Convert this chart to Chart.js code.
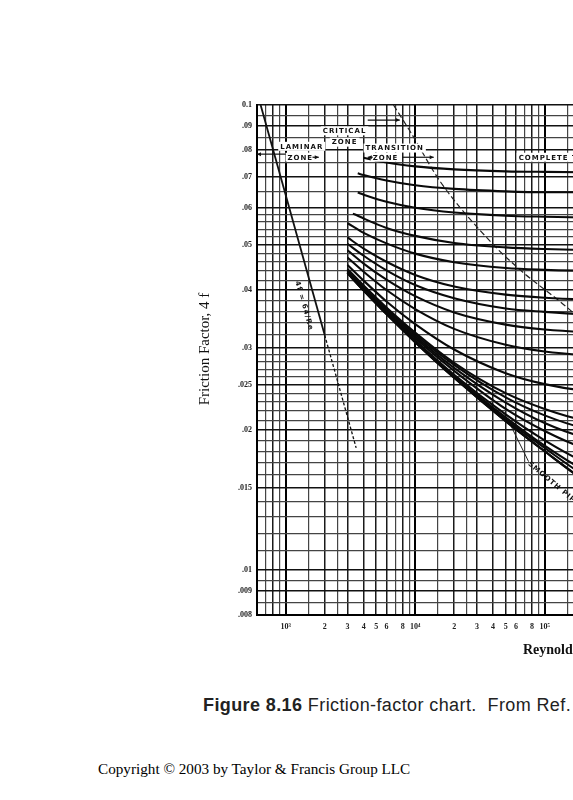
<!DOCTYPE html>
<html>
<head>
<meta charset="utf-8">
<title>Friction-factor chart</title>
<script src="https://cdn.jsdelivr.net/npm/chart.js@4"></script>
<style>
html, body { margin:0; padding:0; background:#fff; overflow:hidden; }
body { width:573px; height:800px; position:relative; }
#contenedorCanvas { position:absolute; left:0; top:0; width:960px; height:680px; }
.pie { position:absolute; white-space:nowrap; }
#figura { left:203px; top:695px; font:18px "Liberation Sans", Arial, sans-serif; letter-spacing:0.4px; color:#222; }
#copyright { left:98px; top:760px; font:15.2px "Liberation Serif", "Times New Roman", serif; color:#000; }
</style>
</head>
<body>
<div id="contenedorCanvas"><canvas id="grafMoody" width="960" height="680"></canvas></div>
<div id="figura" class="pie"><b>Figure 8.16</b> Friction-factor chart.&nbsp; From Ref.</div>
<div id="copyright" class="pie">Copyright © 2003 by Taylor &amp; Francis Group LLC</div>
<script>
let reynolds = [3000, 3300, 3600, 4000, 6000, 1e4, 2e4, 5e4, 1e5, 2e5, 1e6, 1e7, 1e8]

// friction factor 4f for each relative roughness e/D (null = curve not drawn there)
let f0050 = [null, null, null, 0.0770, 0.0752, 0.0738, 0.0727, 0.0720, 0.0718, 0.0717, 0.0716, 0.0716, 0.0716]
let f0040 = [null, null, 0.0713, 0.0707, 0.0688, 0.0672, 0.0660, 0.0652, 0.0649, 0.0649, 0.0649, 0.0649, 0.0649]
let f0030 = [null, null, 0.0648, 0.0641, 0.0619, 0.0601, 0.0587, 0.0578, 0.0575, 0.0573, 0.0571, 0.0571, 0.0571]
let f0020 = [null, 0.0584, 0.0578, 0.0570, 0.0544, 0.0523, 0.0505, 0.0494, 0.0490, 0.0488, 0.0487, 0.0486, 0.0486]
let f0015 = [0.0557, 0.0548, 0.0540, 0.0531, 0.0504, 0.0479, 0.0459, 0.0446, 0.0442, 0.0440, 0.0437, 0.0437, 0.0437]
let f0010 = [0.0519, null, null, 0.0491, 0.0460, 0.0431, 0.0407, 0.0391, 0.0385, 0.0382, 0.0380, 0.0379, 0.0379]
let f0008 = [0.0503, null, null, 0.0474, 0.0441, 0.0410, 0.0384, 0.0365, 0.0359, 0.0355, 0.0353, 0.0352, 0.0352]
let f0006 = [0.0487, null, null, 0.0456, 0.0421, 0.0388, 0.0358, 0.0337, 0.0329, 0.0325, 0.0322, 0.0321, 0.0321]
let f0004 = [0.0470, null, null, 0.0438, 0.0400, 0.0364, 0.0330, 0.0305, 0.0295, 0.0290, 0.0285, 0.0284, 0.0284]
let f0002 = [0.0453, null, null, 0.0419, 0.0378, 0.0338, 0.0298, 0.0265, 0.0251, 0.0243, 0.0236, 0.0234, 0.0234]
let f00010 = [0.0444, null, null, 0.0409, 0.0367, 0.0324, 0.0279, 0.0240, 0.0222, 0.0210, 0.0199, 0.0197, 0.0196]
let f00008 = [0.0442, null, null, 0.0407, 0.0365, 0.0321, 0.0276, 0.0235, 0.0215, 0.0202, 0.0190, 0.0187, 0.0186]
let f00006 = [0.0440, null, null, 0.0405, 0.0362, 0.0318, 0.0272, 0.0229, 0.0207, 0.0193, 0.0179, 0.0175, 0.0174]
let f00004 = [0.0439, null, null, 0.0403, 0.0360, 0.0315, 0.0268, 0.0222, 0.0199, 0.0183, 0.0165, 0.0160, 0.0159]
let f00002 = [0.0437, null, null, 0.0401, 0.0358, 0.0312, 0.0263, 0.0216, 0.0190, 0.0171, 0.0147, 0.0138, 0.0137]
let f00001 = [0.0436, null, null, 0.0400, 0.0357, 0.0310, 0.0261, 0.0213, 0.0185, 0.0164, 0.0134, 0.0122, 0.0120]
let f000005 = [0.0436, null, null, 0.0400, 0.0356, 0.0310, 0.0260, 0.0211, 0.0183, 0.0160, 0.0127, 0.0109, 0.0106]
let f000001 = [0.0435, null, null, 0.0399, 0.0355, 0.0309, 0.0259, 0.0209, 0.0180, 0.0156, 0.0119, 0.0090, 0.0082]
let fLiso = [0.0435, null, null, 0.0399, 0.0355, 0.0309, 0.0259, 0.0209, 0.0180, 0.0156, 0.0116, 0.0081, 0.0060]

let curvas = [f0050, f0040, f0030, f0020, f0015, f0010, f0008, f0006, f0004, f0002,
              f00010, f00008, f00006, f00004, f00002, f00001, f000005, f000001, fLiso]

// laminar line 4f = 64/Re (solid part, then the dashed extension)
let laminarRe = [640, 2000]
let laminarF = [0.1, 0.032]
let laminarExtRe = [2000, 3500]
let laminarExtF = [0.032, 0.0183]

// dashed limit of complete turbulence
let limiteRe = [6800, 9200, 15700, 40400, 65300, 167000, 1430000, 18300000, 1e8]
let limiteF = [0.1, 0.0875, 0.0683, 0.05, 0.0441, 0.0357, 0.0196, 0.012, 0.0092]

// leader from the smooth pipe curve to its label
let lisoGuiaRe = [52700, 75200]
let lisoGuiaF = [0.0209, 0.0171]

// grid / tick values
let multiplosX = [1, 1.5, 2, 2.5, 3, 4, 5, 6, 7, 8, 9]
let multiplosConTexto = [2, 3, 4, 5, 6, 8]
let gridY = [0.1, 0.095, 0.09, 0.085, 0.08, 0.075, 0.07, 0.065, 0.06, 0.058, 0.056, 0.054, 0.052,
             0.05, 0.048, 0.046, 0.044, 0.042, 0.04, 0.038, 0.036, 0.034, 0.032, 0.03,
             0.029, 0.028, 0.027, 0.026, 0.025, 0.024, 0.023, 0.022, 0.021, 0.02,
             0.019, 0.018, 0.017, 0.016, 0.015, 0.014, 0.013, 0.012, 0.011, 0.01,
             0.0095, 0.009, 0.0085, 0.008]
let valoresEtiquetaY = [0.1, 0.09, 0.08, 0.07, 0.06, 0.05, 0.04, 0.03, 0.025, 0.02, 0.015, 0.01, 0.009, 0.008]
let textoEtiquetaY = ['0.1', '.09', '.08', '.07', '.06', '.05', '.04', '.03', '.025', '.02', '.015', '.01', '.009', '.008']

let superindices = ['⁰', '¹', '²', '³', '⁴', '⁵', '⁶', '⁷', '⁸', '⁹']

let gridX = []
for (let e = 2; e <= 8; e++) {
    multiplosX.forEach(m => {
        let v = m * Math.pow(10, e)
        if (v >= 600 && v <= 1e8) gridX.push(v)
    })
}

function partesX(v) {
    let e = Math.floor(Math.log10(v) + 1e-9)
    let m = Math.round(v / Math.pow(10, e) * 10) / 10
    return { e: e, m: m }
}

function etiquetaX(v) {
    if (v < 1000) return ''
    let p = partesX(v)
    if (p.m == 1) return '10' + superindices[p.e]
    if (multiplosConTexto.includes(p.m)) return String(p.m)
    return ''
}

function etiquetaY(v) {
    let i = valoresEtiquetaY.findIndex(w => Math.abs(w - v) < 1e-7)
    return i >= 0 ? textoEtiquetaY[i] : ''
}

function puntos(xs, ys) {
    return xs.map((x, i) => ({ x: x, y: ys[i] })).filter(p => p.y != null)
}

let datasets = []
curvas.forEach(c => {
    datasets.push({
        data: puntos(reynolds, c),
        borderColor: '#0a0a0a',
        borderWidth: 2.1,
        cubicInterpolationMode: 'monotone',
        pointRadius: 0
    })
})
datasets.push({ data: puntos(laminarRe, laminarF), borderColor: '#111', borderWidth: 1.8, pointRadius: 0 })
datasets.push({ data: puntos(laminarExtRe, laminarExtF), borderColor: '#111', borderWidth: 1.3, borderDash: [3, 2], pointRadius: 0 })
datasets.push({ data: puntos(limiteRe, limiteF), borderColor: '#222', borderWidth: 1.2, borderDash: [6, 3], cubicInterpolationMode: 'monotone', pointRadius: 0 })
datasets.push({ data: puntos(lisoGuiaRe, lisoGuiaF), borderColor: '#222', borderWidth: 1, pointRadius: 0 })

// text inside the plot, placed in data coordinates
let rotulos = [
    { texto: 'LAMINAR', re: 1330, f: 0.0815 },
    { texto: 'ZONE', re: 1295, f: 0.0772 },
    { texto: 'CRITICAL', re: 2850, f: 0.0880 },
    { texto: 'ZONE', re: 2850, f: 0.0832 },
    { texto: 'TRANSITION', re: 6950, f: 0.0808 },
    { texto: 'ZONE', re: 5900, f: 0.0772 },
    { texto: 'COMPLETE TURBULENCE, ROUGH PIPES', re: 63000, f: 0.0772, alinear: 'left' },
    { texto: 'SMOOTH PIPES', re: 76000, f: 0.0170, alinear: 'left', giro: 40, fondo: false },
    { texto: '4f = 64/Re', re: 1400, f: 0.037, giro: 74, fondo: false }
]
let flechas = [
    { re1: 1000, re2: 600, f: 0.0784 },
    { re1: 1610, re2: 1800, f: 0.0772 },
    { re1: 4300, re2: 7600, f: 0.0928 },
    { re1: 4700, re2: 4300, f: 0.0772 },
    { re1: 8000, re2: 13900, f: 0.0772 }
]

let textos = {
    id: 'textos',
    afterDraw(chart) {
        let ctx = chart.ctx
        let sx = chart.scales.x
        let sy = chart.scales.y
        let area = chart.chartArea

        ctx.save()
        ctx.beginPath()
        ctx.rect(area.left, area.top, area.right - area.left, area.bottom - area.top)
        ctx.clip()
        ctx.font = 'bold 7px "DejaVu Sans", sans-serif'
        ctx.letterSpacing = '1px'
        ctx.textBaseline = 'middle'
        rotulos.forEach(r => {
            let px = sx.getPixelForValue(r.re)
            let py = sy.getPixelForValue(r.f)
            ctx.save()
            ctx.translate(px, py)
            if (r.giro) ctx.rotate(r.giro * Math.PI / 180)
            ctx.textAlign = r.alinear || 'center'
            let w = ctx.measureText(r.texto).width
            if (r.fondo !== false) {
                let x0 = ctx.textAlign == 'left' ? -2 : -w / 2 - 2
                ctx.fillStyle = '#fff'
                ctx.fillRect(x0, -4.5, w + 4, 9)
            }
            ctx.fillStyle = '#111'
            ctx.fillText(r.texto, 0, 0.5)
            ctx.restore()
        })
        ctx.strokeStyle = '#111'
        ctx.fillStyle = '#111'
        ctx.lineWidth = 1.2
        flechas.forEach(a => {
            let x1 = sx.getPixelForValue(a.re1)
            let x2 = sx.getPixelForValue(a.re2)
            let py = sy.getPixelForValue(a.f)
            let d = x2 > x1 ? 1 : -1
            ctx.beginPath()
            ctx.moveTo(x1, py)
            ctx.lineTo(x2, py)
            ctx.stroke()
            ctx.beginPath()
            ctx.moveTo(x2, py)
            ctx.lineTo(x2 - d * 4, py - 2)
            ctx.lineTo(x2 - d * 4, py + 2)
            ctx.closePath()
            ctx.fill()
        })
        ctx.restore()

        // axis titles
        ctx.save()
        ctx.fillStyle = '#111'
        ctx.font = '15px "Liberation Serif", serif'
        ctx.textAlign = 'center'
        ctx.textBaseline = 'middle'
        ctx.translate(205, 349)
        ctx.rotate(-Math.PI / 2)
        ctx.fillText('Friction Factor, 4 f', 0, 0)
        ctx.restore()

        ctx.save()
        ctx.fillStyle = '#111'
        ctx.font = 'bold 14px "Liberation Serif", serif'
        ctx.textAlign = 'left'
        ctx.textBaseline = 'middle'
        ctx.fillText('Reynolds Number, Re = DVρ/μ', 523, 650)
        ctx.restore()
    }
}

let canvaMoody = document.querySelector('#grafMoody')

new Chart(canvaMoody, {
    type: 'line',
    data: { datasets: datasets },
    options: {
        responsive: false,
        animation: false,
        layout: { padding: { top: 105, right: 27, bottom: 0, left: 0 } },
        plugins: {
            legend: { display: false },
            tooltip: { enabled: false }
        },
        scales: {
            x: {
                type: 'logarithmic',
                min: 600,
                max: 1e8,
                afterFit: s => { s.height = 65 },
                afterBuildTicks: s => { s.ticks = gridX.map(v => ({ value: v })) },
                ticks: {
                    autoSkip: false,
                    maxRotation: 0,
                    padding: 7,
                    color: '#222',
                    font: { family: '"Liberation Serif", serif', size: 8, weight: 'bold' },
                    callback: v => etiquetaX(v)
                },
                grid: {
                    drawTicks: false,
                    color: c => {
                        let p = partesX(c.tick.value)
                        return p.m == 1 ? '#000' : (multiplosConTexto.includes(p.m) ? '#1a1a1a' : '#444')
                    },
                    lineWidth: c => {
                        let p = partesX(c.tick.value)
                        return p.m == 1 ? 2 : (multiplosConTexto.includes(p.m) ? 1.5 : 1.2)
                    }
                },
                border: { color: '#000', width: 2 }
            },
            y: {
                type: 'logarithmic',
                min: 0.008,
                max: 0.1,
                afterFit: s => { s.width = 257 },
                afterBuildTicks: s => { s.ticks = gridY.map(v => ({ value: v })) },
                ticks: {
                    autoSkip: false,
                    padding: 5,
                    color: '#222',
                    font: { family: '"Liberation Serif", serif', size: 8, weight: 'bold' },
                    callback: v => etiquetaY(v)
                },
                grid: {
                    drawTicks: false,
                    color: c => etiquetaY(c.tick.value) ? '#111' : '#444',
                    lineWidth: c => etiquetaY(c.tick.value) ? 1.6 : 1.2
                },
                border: { color: '#000', width: 2 }
            }
        }
    },
    plugins: [textos]
})
</script>
</body>
</html>
